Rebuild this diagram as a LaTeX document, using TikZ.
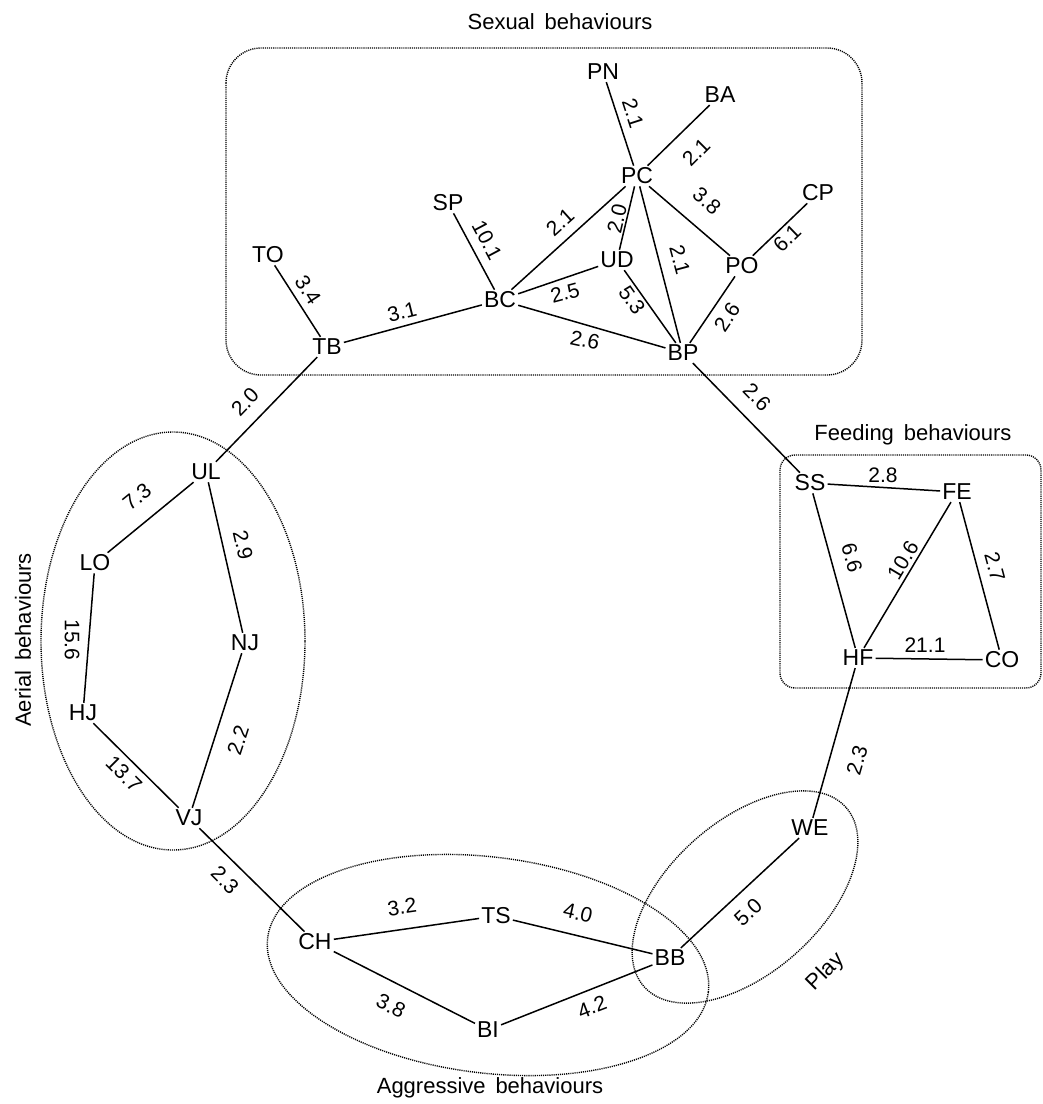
\documentclass[tikz,border=0pt]{standalone}
\usepackage{fontspec}
\setmainfont{Liberation Sans}
\begin{document}
\begin{tikzpicture}[x=1pt,y=1pt,
  beh/.style={font=\fontsize{23}{26}\selectfont, inner sep=2pt},
  num/.style={font=\fontsize{21}{24}\selectfont, inner sep=0pt},
  grp/.style={font=\fontsize{22}{26}\selectfont, inner sep=0pt},
  link/.style={line width=1.5pt},
  bound/.style={line width=1.4pt, dash pattern=on 1.1pt off 1pt}]
\useasboundingbox (0,0) rectangle (1043,-1104);

% ---------- group boundaries ----------
\draw[bound, rounded corners=35pt] (226,-48) rectangle (862,-375);
\draw[bound, rounded corners=15pt] (780,-455) rectangle (1041,-688);
\draw[bound] (173,-641) ellipse [x radius=132, y radius=209];
\draw[bound, rotate around={-7:(488,-965)}] (488,-965) ellipse [x radius=222, y radius=108];
\draw[bound, rotate around={41.6:(745,-897)}] (745,-897) ellipse [x radius=135, y radius=76];

% ---------- group titles ----------
\node[grp] (tSex) at (560,-22) {Sexual\hspace{0.45em}behaviours};
\node[grp] (tFeed) at (913,-435) {Feeding\hspace{0.45em}behaviours};
\node[grp, rotate=90] (tAer) at (23,-640) {Aerial\hspace{0.45em}behaviours};
\node[grp] (tAgg) at (490,-1088) {Aggressive\hspace{0.45em}behaviours};
\node[grp, rotate=45] (tPlay) at (826,-972) {Play};

% ---------- behaviour nodes ----------
\node[beh] (PN) at (603,-72) {PN};
\node[beh] (BA) at (720,-95) {BA};
\node[beh] (PC) at (637,-176) {PC};
\node[beh] (CP) at (818,-193) {CP};
\node[beh] (SP) at (448,-203) {SP};
\node[beh] (TO) at (268,-255) {TO};
\node[beh] (UD) at (617,-260) {UD};
\node[beh] (PO) at (742,-266) {PO};
\node[beh] (BC) at (500,-300) {BC};
\node[beh] (TB) at (327,-347) {TB};
\node[beh] (BP) at (683,-353) {BP};

\node[beh] (UL) at (206,-472) {UL};
\node[beh] (LO) at (95,-563) {LO};
\node[beh] (NJ) at (245,-643) {NJ};
\node[beh] (HJ) at (83,-713) {HJ};
\node[beh] (VJ) at (189,-818) {VJ};

\node[beh] (SS) at (810,-483) {SS};
\node[beh] (FE) at (957,-492) {FE};
\node[beh] (HF) at (858,-658) {HF};
\node[beh] (CO) at (1002,-660) {CO};

\node[beh] (CH) at (315,-942) {CH};
\node[beh] (TS) at (496,-916) {TS};
\node[beh] (BB) at (670,-958) {BB};
\node[beh] (BI) at (488,-1030) {BI};
\node[beh] (WE) at (810,-828) {WE};

% ---------- connectors ----------
\draw[link] (TO) -- (TB);
\draw[link] (TB) -- (BC);
\draw[link] (SP) -- (BC);
\draw[link] (BC) -- (PC);
\draw[link] (BC) -- (UD);
\draw[link] (BC) -- (BP);
\draw[link] (PN) -- (PC);
\draw[link] (BA) -- (PC);
\draw[link] (PC) -- (UD);
\draw[link] (PC) -- (BP);
\draw[link] (PC) -- (PO);
\draw[link] (PO) -- (CP);
\draw[link] (UD) -- (BP);
\draw[link] (PO) -- (BP);
\draw[link] (BP) -- (SS);
\draw[link] (TB) -- (UL);

\draw[link] (UL) -- (LO);
\draw[link] (UL) -- (NJ);
\draw[link] (LO) -- (HJ);
\draw[link] (NJ) -- (VJ);
\draw[link] (HJ) -- (VJ);
\draw[link] (VJ) -- (CH);

\draw[link] (SS) -- (FE);
\draw[link] (SS) -- (HF);
\draw[link] (FE) -- (HF);
\draw[link] (FE) -- (CO);
\draw[link] (HF) -- (CO);
\draw[link] (HF) -- (WE);

\draw[link] (CH) -- (TS);
\draw[link] (CH) -- (BI);
\draw[link] (TS) -- (BB);
\draw[link] (BI) -- (BB);
\draw[link] (BB) -- (WE);

% ---------- connector values ----------
\node[num, rotate=-72] (v1) at (633,-113) {2.1};
\node[num, rotate=45] (v2) at (696,-152) {2.1};
\node[num, rotate=-41] (v3) at (707,-201) {3.8};
\node[num, rotate=44] (v4) at (787,-238) {6.1};
\node[num, rotate=-62] (v5) at (487,-240) {10.1};
\node[num, rotate=42] (v6) at (560,-222) {2.1};
\node[num, rotate=77] (v7) at (617,-219) {2.0};
\node[num, rotate=-75] (v8) at (680,-260) {2.1};
\node[num, rotate=-57] (v9) at (308,-290) {3.4};
\node[num, rotate=14] (v10) at (402,-312) {3.1};
\node[num, rotate=15] (v11) at (565,-293) {2.5};
\node[num, rotate=-55] (v12) at (632,-300) {5.3};
\node[num, rotate=-12] (v13) at (585,-340) {2.6};
\node[num, rotate=56] (v14) at (727,-317) {2.6};
\node[num, rotate=-46] (v15) at (757,-397) {2.6};
\node[num, rotate=46] (v16) at (245,-402) {2.0};

\node[num, rotate=39] (v17) at (137,-497) {7.3};
\node[num, rotate=-77] (v18) at (243,-545) {2.9};
\node[num, rotate=-90] (v19) at (72,-640) {15.6};
\node[num, rotate=-45] (v20) at (124,-774) {13.7};
\node[num, rotate=72] (v21) at (238,-740) {2.2};

\node[num] (v22) at (883,-475) {2.8};
\node[num, rotate=-75] (v23) at (852,-558) {6.6};
\node[num, rotate=59] (v24) at (903,-560) {10.6};
\node[num, rotate=-75] (v25) at (995,-567) {2.7};
\node[num] (v26) at (925,-645) {21.1};

\node[num, rotate=74] (v27) at (857,-760) {2.3};
\node[num, rotate=-45] (v28) at (225,-880) {2.3};

\node[num, rotate=8] (v29) at (402,-907) {3.2};
\node[num, rotate=-13] (v30) at (578,-913) {4.0};
\node[num, rotate=-27] (v31) at (391,-1006) {3.8};
\node[num, rotate=21] (v32) at (592,-1007) {4.2};
\node[num, rotate=43] (v33) at (748,-912) {5.0};
\end{tikzpicture}
\end{document}
